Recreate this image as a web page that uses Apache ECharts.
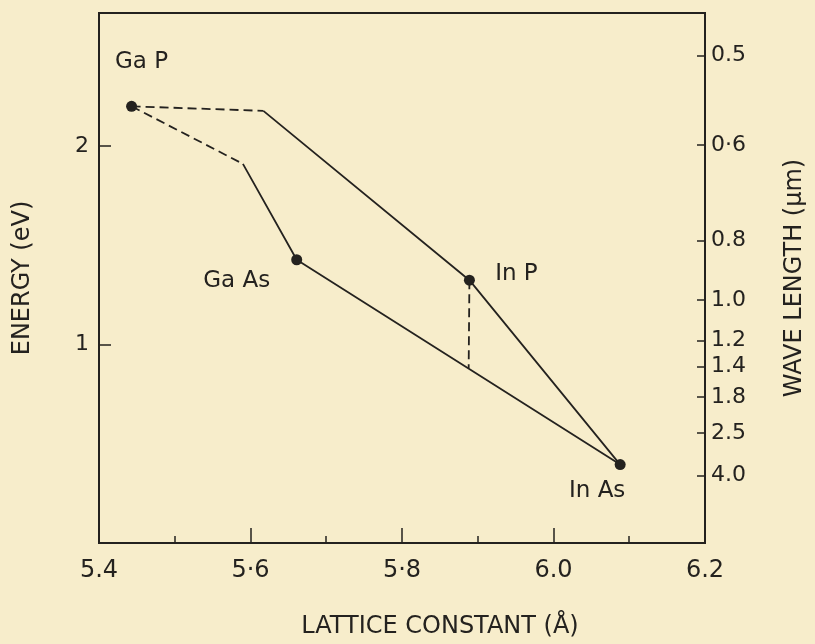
<!DOCTYPE html>
<html><head><meta charset="utf-8">
<script src="https://cdn.jsdelivr.net/npm/echarts@6/dist/echarts.min.js"></script>
<style>html,body{margin:0;padding:0;background:#f7edcb}#c{width:815px;height:644px}</style>
</head><body><div id="c"></div>
<script>
// ---- data ----
const compounds = ['Ga P', 'Ga As', 'In P', 'In As'];
const latticeConstant = [5.443, 5.661, 5.889, 6.088];
const bandGap = [2.20, 1.427, 1.324, 0.395];

const upperDashX = [5.443, 5.617];
const upperDashY = [2.20, 2.177];
const upperSolidX = [5.617, 5.889, 6.088];
const upperSolidY = [2.177, 1.324, 0.395];
const lowerDashX = [5.443, 5.590];
const lowerDashY = [2.20, 1.91];
const lowerSolidX = [5.590, 5.661, 6.088];
const lowerSolidY = [1.91, 1.427, 0.395];
const inpDropX = [5.889, 5.888];
const inpDropY = [1.324, 0.882];

const xTickValues = [5.4, 5.6, 5.8, 6.0, 6.2];
const xTickLabels = ['5.4', '5·6', '5·8', '6.0', '6.2'];
const xMinorTicks = [5.5, 5.7, 5.9, 6.1];
const energyTickValues = [1, 2];
const energyTickLabels = ['1', '2'];
const wavelengthLabels = ['0.5', '0·6', '0.8', '1.0', '1.2', '1.4', '1.8', '2.5', '4.0'];
const wavelengthEnergyPos = [2.455, 2.005, 1.525, 1.225, 1.02, 0.89, 0.735, 0.555, 0.34];

// ---- styling ----
const ink = '#24221f';
const font = 'DejaVu Sans';
const labelOffsets = [[10, -44], [-60, 21], [47, -6], [-23, 26]];

function pairs(xs, ys) { return xs.map((x, i) => [x, ys[i]]); }
function lookup(vals, labels) {
  return v => { const i = vals.findIndex(t => Math.abs(t - v) < 1e-6); return i >= 0 ? labels[i] : ''; };
}
function lineSeries(xs, ys, dashed) {
  return { type: 'line', data: pairs(xs, ys), symbol: 'none', silent: true,
    lineStyle: { color: ink, width: 1.8, type: dashed ? [9, 5] : 'solid' } };
}

const chart = echarts.init(document.getElementById('c'));
chart.setOption({
  animation: false,
  backgroundColor: '#f7edcb',
  grid: { left: 99, right: 109, top: 13, bottom: 97, show: true, borderColor: ink, borderWidth: 2, backgroundColor: 'transparent' },
  xAxis: [{
    type: 'value', min: 5.4, max: 6.2, interval: 0.2,
    name: 'LATTICE CONSTANT (Å)', nameLocation: 'middle', nameGap: 72,
    nameTextStyle: { fontFamily: font, fontSize: 24, color: ink, padding: [0, 0, 0, 76] },
    axisLine: { lineStyle: { color: ink, width: 2 } },
    axisTick: { inside: true, length: 15, lineStyle: { color: ink, width: 1.5 } },
    axisLabel: { customValues: xTickValues, formatter: lookup(xTickValues, xTickLabels), margin: 16,
      fontFamily: font, fontSize: 24, color: ink },
    splitLine: { show: false }
  }, {
    type: 'value', min: 5.4, max: 6.2, position: 'bottom',
    axisLine: { show: false },
    axisTick: { inside: true, length: 7, customValues: xMinorTicks, lineStyle: { color: ink, width: 1.5 } },
    axisLabel: { show: false }, splitLine: { show: false }
  }],
  yAxis: [{
    type: 'value', min: 0, max: 2.67, position: 'left',
    name: 'ENERGY (eV)', nameLocation: 'middle', nameGap: 64, nameRotate: 90,
    nameTextStyle: { fontFamily: font, fontSize: 24, color: ink },
    axisLine: { show: true, lineStyle: { color: ink, width: 2 } },
    axisTick: { show: true, inside: true, length: 12, customValues: energyTickValues, lineStyle: { color: ink, width: 1.5 } },
    axisLabel: { customValues: energyTickValues, formatter: lookup(energyTickValues, energyTickLabels), margin: 10,
      fontFamily: font, fontSize: 22, color: ink },
    splitLine: { show: false }
  }, {
    type: 'value', min: 0, max: 2.67, position: 'right',
    name: 'WAVE LENGTH (μm)', nameLocation: 'middle', nameGap: 78, nameRotate: 90,
    nameTextStyle: { fontFamily: font, fontSize: 24, color: ink },
    axisLine: { show: true, lineStyle: { color: ink, width: 2 } },
    axisTick: { show: true, inside: true, length: 8, customValues: wavelengthEnergyPos, lineStyle: { color: ink, width: 1.5 } },
    axisLabel: { customValues: wavelengthEnergyPos, formatter: lookup(wavelengthEnergyPos, wavelengthLabels), margin: 6,
      fontFamily: font, fontSize: 22, color: ink },
    splitLine: { show: false }
  }],
  series: [
    lineSeries(upperDashX, upperDashY, true),
    lineSeries(upperSolidX, upperSolidY, false),
    lineSeries(lowerDashX, lowerDashY, true),
    lineSeries(lowerSolidX, lowerSolidY, false),
    lineSeries(inpDropX, inpDropY, true),
    {
      type: 'scatter', symbolSize: 11, silent: true, z: 5,
      itemStyle: { color: ink, opacity: 1 },
      data: compounds.map((n, i) => ({
        name: n, value: [latticeConstant[i], bandGap[i]],
        label: { show: true, position: 'inside', offset: labelOffsets[i], formatter: '{b}',
          fontFamily: font, fontSize: 23, color: ink }
      }))
    }
  ]
});
</script></body></html>
